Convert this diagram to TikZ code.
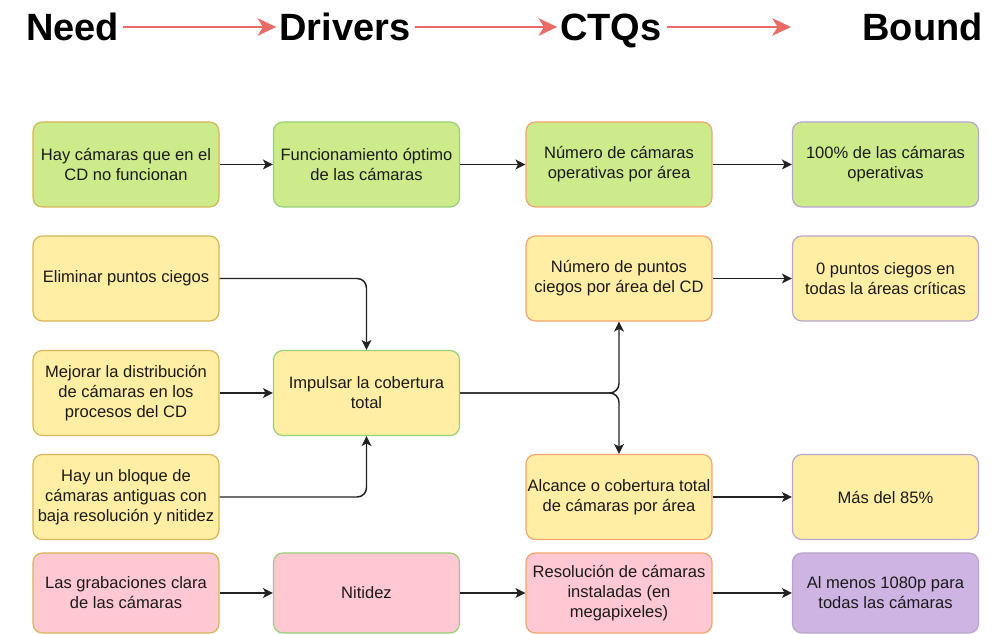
\documentclass[tikz,border=0pt]{standalone}
\usepackage{fontspec}
\setmainfont{Liberation Sans}
\usetikzlibrary{arrows.meta}
\definecolor{fgreen}{HTML}{CDEB8B}
\definecolor{fyellow}{HTML}{FFEEA3}
\definecolor{fpink}{HTML}{FFC8D2}
\definecolor{fpurple}{HTML}{CDB4E2}
\definecolor{sone}{HTML}{D6B656}
\definecolor{stwo}{HTML}{97D077}
\definecolor{sthree}{HTML}{F4A56E}
\definecolor{sfour}{HTML}{B9A5CC}
\definecolor{hred}{HTML}{EA6B66}
\definecolor{lineblack}{HTML}{222222}
\definecolor{txt}{HTML}{1A1A1A}
\begin{document}
\begin{tikzpicture}[x=0.75pt,y=-0.75pt,
  box/.style={draw, rounded corners=7pt, minimum width=139.5pt, minimum height=63.75pt,
    align=center, inner sep=0pt, line width=0.9pt, text=txt,
    font=\fontsize{12.4}{15}\selectfont},
  lastrow/.style={minimum height=60pt},
  colone/.style={draw=sone}, coltwo/.style={draw=stwo}, colthree/.style={draw=sthree}, colfour/.style={draw=sfour},
  hdr/.style={inner sep=0pt, text height=21pt, text depth=0pt,
    font=\fontsize{28.5}{30}\selectfont\bfseries},
  redarrow/.style={draw=hred, line width=2pt, -{Stealth[length=14pt, width=13pt, inset=4pt]}},
  link/.style={draw=lineblack, line width=1.1pt, -{Stealth[length=7.5pt, width=7.5pt, inset=2pt]}},
  elbow/.style={link, rounded corners=7pt}
]
\useasboundingbox (0,0) rectangle (997,634);

% headers
\node[hdr, anchor=base west] (hneed) at (26,41) {Need};
\node[hdr, anchor=base west] (hdrv) at (279,41) {Drivers};
\node[hdr, anchor=base west] (hctq) at (560,41) {CTQs};
\node[hdr, anchor=base east] (hbound) at (983,41) {Bound};
\coordinate (hend) at (791,27);
\draw[redarrow, shorten <=3pt, shorten >=2pt] (hneed.east) -- (hdrv.west);
\draw[redarrow, shorten <=3pt, shorten >=2pt] (hdrv.east) -- (hctq.west);
\draw[redarrow, shorten <=4pt] (hctq.east) -- (hend);

% row 1
\node[box, colone, fill=fgreen] (a1) at (126,164.5) {Hay cámaras que en el\\CD no funcionan};
\node[box, coltwo, fill=fgreen] (b1) at (366.5,164.5) {Funcionamiento óptimo\\de las cámaras};
\node[box, colthree, fill=fgreen] (c1n) at (619,164.5) {Número de cámaras\\operativas por área};
\node[box, colfour, fill=fgreen] (d1) at (885.5,164.5) {100\% de las cámaras\\operativas};

% row 2
\node[box, colone, fill=fyellow] (a2) at (126,278.5) {Eliminar puntos ciegos};
\node[box, colthree, fill=fyellow] (c2n) at (619,278.5) {Número de puntos\\ciegos por área del CD};
\node[box, colfour, fill=fyellow] (d2) at (885.5,278.5) {0 puntos ciegos en\\todas la áreas críticas};

% row 3
\node[box, colone, fill=fyellow] (a3) at (126,393) {Mejorar la distribución\\de cámaras en los\\procesos del CD};
\node[box, coltwo, fill=fyellow] (b3) at (366.5,393) {Impulsar la cobertura\\total};

% row 4
\node[box, colone, fill=fyellow] (a4) at (126,497) {Hay un bloque de\\cámaras antiguas con\\baja resolución y nitidez};
\node[box, colthree, fill=fyellow] (c4n) at (619,497) {Alcance o cobertura total\\de cámaras por área};
\node[box, colfour, fill=fyellow] (d4) at (885.5,497) {Más del 85\%};

% row 5
\node[box, lastrow, colone, fill=fpink] (a5) at (126,593) {Las grabaciones clara\\de las cámaras};
\node[box, lastrow, coltwo, fill=fpink] (b5) at (366.5,593) {Nitidez};
\node[box, lastrow, colthree, fill=fpink] (c5n) at (619,593) {Resolución de cámaras\\instaladas (en\\megapixeles)};
\node[box, lastrow, colfour, fill=fpurple] (d5) at (885.5,593) {Al menos 1080p para\\todas las cámaras};

% connectors
\draw[link] (a1.east) -- (b1.west);
\draw[link] (b1.east) -- (c1n.west);
\draw[link] (c1n.east) -- (d1.west);
\draw[link] (c2n.east) -- (d2.west);
\draw[link] (a3.east) -- (b3.west);
\draw[elbow] (a2.east) -| (b3.north);
\draw[elbow] (a4.east) -| (b3.south);
\draw[elbow] (b3.east) -| (c2n.south);
\draw[elbow] (b3.east) -| (c4n.north);
\draw[link] (c4n.east) -- (d4.west);
\draw[link] (a5.east) -- (b5.west);
\draw[link] (b5.east) -- (c5n.west);
\draw[link] (c5n.east) -- (d5.west);
\end{tikzpicture}
\end{document}
